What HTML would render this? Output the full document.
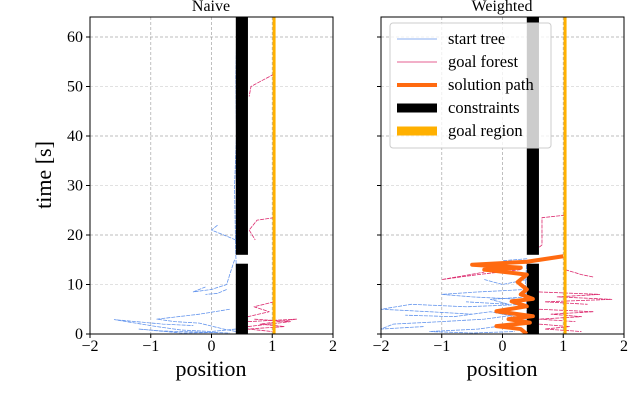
<!DOCTYPE html>
<html><head><meta charset="utf-8"><style>
body{margin:0;background:#fff;}
svg{display:block;font-family:"Liberation Serif",serif;}
</style></head><body>
<svg id="chart" width="628" height="408" viewBox="0 0 628 408"></svg>
<script>
// ---- data ----
const xTicks=[-2,-1,0,1,2];
const yTicks=[0,10,20,30,40,50,60];
const goalX=1.03;
const constraintX=[0.4,0.6];
const constraintGap=[14.2,16.0];
const naiveStart=[
[[0.42,0],[0.42,10],[0.40,16],[0.39,22],[0.38,30],[0.41,40],[0.40,52],[0.42,64]],
[[0.40,19],[0.2,20],[0.0,21],[0.1,22]],
[[0.38,15],[0.3,12],[0.25,10],[0.0,9],[-0.3,8.5],[-0.1,9.5]],
[[0.25,9],[0.1,8.2],[-0.1,8]],
[[0.4,1],[0.0,0.5],[-0.5,0.8],[-0.9,1.5],[-1.6,2.9],[-0.8,2],[-0.3,1.7]],
[[0.3,5],[-0.2,4],[-0.9,3],[-0.6,2.5],[-0.2,2.2],[0.2,1],[0.4,0.5]],
[[0.1,0.3],[-0.5,0.2],[-1.2,1],[-0.8,0.6],[0.3,0.2]]
];
const naiveGoal=[
[[1.03,52.5],[0.8,51],[0.65,50],[0.62,48]],
[[1.03,23.5],[0.75,23],[0.62,21],[0.72,19]],
[[1.03,6.5],[0.7,5.5],[0.95,4.5],[0.6,3.5]],
[[0.6,2.5],[1.4,3],[0.8,2],[1.2,1.5],[0.6,1],[1.0,0.5]],
[[0.6,1.5],[1.3,2.5],[0.7,3]]
];
const weightedStart=[
[[0.42,0],[0.4,5],[0.38,10],[0.4,15.2],[0.2,15],[0.0,14.8]],
[[0.4,9],[-0.4,8.5],[-1.0,8],[-0.5,7.5],[0.3,7]],
[[0.4,6],[-0.6,5.5],[-1.5,6],[-2.0,5],[-1.2,4.5],[-0.5,4]],
[[0.3,4],[-0.3,3],[-1.0,2.5],[-1.8,2],[-2,1],[-1.3,1.5]],
[[0.2,2],[-0.4,1],[-1.2,0.5],[-0.5,0.2],[0.2,0.5]],
[[0.4,3],[-0.2,4.5],[-0.8,3.5],[-1.6,3.8]],
[[0.4,7.5],[-0.2,7],[0.1,6],[-0.6,6.5]],
[[0.4,11],[0.0,10],[-0.3,11]]
];
const weightedGoal=[
[[1.03,24],[0.65,23.5],[0.65,18],[0.55,17]],
[[1.03,13],[1.3,12],[1.5,11.5]],
[[0.6,8.5],[1.6,8],[0.9,7.5],[1.8,7],[0.7,6.5],[1.4,6]],
[[0.6,5],[1.5,4.5],[0.8,4],[1.3,3.5],[0.6,3],[1.2,2.5]],
[[0.6,2],[1.1,1.5],[0.7,1],[1.3,0.5]],
[[0.3,13],[-0.4,12],[-1.0,11],[-0.3,12.5]]
];
const solutionPath=[[0.4,0],[0.3,1],[-0.1,1.6],[0.45,2.3],[0.1,3],[0.5,3.6],[-0.1,4.6],[0.4,5.6],[0.15,6.6],[0.5,7.1],[0.3,8],[0.4,9],[0.25,10.5],[0.4,12],[-0.3,13],[0.3,13.4],[-0.5,14],[0.4,14.6],[1.0,15.7]];

// ---- drawing ----
const NS="http://www.w3.org/2000/svg";
const svg=document.getElementById('chart');
function mk(tag,attrs,parent){const e=document.createElementNS(NS,tag);for(const k in attrs)e.setAttribute(k,attrs[k]);(parent||svg).appendChild(e);return e;}
const Y0=334,YS=(334-37)/60;
const sy=t=>Y0-t*YS;
function panel(left,title,start,goal,path,name){
  const sx=p=>left+(p+2)*(243/4);
  const g=mk('g',{});
  
  
  const top=17,right=left+243;
  for(const v of xTicks){if(v===-2||v===2)continue;const l=mk('line',{x1:sx(v),x2:sx(v),y1:top,y2:Y0,stroke:'#b0b0b0','stroke-width':0.8,'stroke-dasharray':'3,2'},g);}
  for(const v of yTicks){if(v===0)continue;const l=mk('line',{x1:left,x2:right,y1:sy(v),y2:sy(v),stroke:v%20==0?'#a8a8a8':'#d8d8d8','stroke-width':0.8,'stroke-dasharray':'3,2'},g);}
  const clip=mk('clipPath',{id:'c'+name},g);mk('rect',{x:left,y:top,width:243,height:Y0-top},clip);
  const inner=mk('g',{'clip-path':'url(#c'+name+')'},g);
  const line=(pts,col,w,nm)=>{const p=mk('polyline',{points:pts.map(q=>sx(q[0])+','+sy(q[1])).join(' '),fill:'none',stroke:col,'stroke-width':w,'stroke-linejoin':'round','stroke-dasharray':w<1?'4,1':'none'},inner);};
  start.forEach(b=>line(b,'#6495ed',0.8,'start-tree-branch'));
  goal.forEach(b=>line(b,'#dc2a6e',0.8,'goal-forest-branch'));
  const c1=mk('rect',{x:sx(constraintX[0]),y:sy(constraintGap[0]),width:sx(constraintX[1])-sx(constraintX[0]),height:Y0-sy(constraintGap[0]),fill:'#000'},inner);
  
  const c2=mk('rect',{x:sx(constraintX[0]),y:top,width:sx(constraintX[1])-sx(constraintX[0]),height:sy(constraintGap[1])-top,fill:'#000'},inner);
  
  const gr=mk('line',{x1:sx(goalX),x2:sx(goalX),y1:top,y2:Y0,stroke:'#ffb000','stroke-width':3},inner);
  
  if(path){const p=mk('polyline',{points:path.map(q=>sx(q[0])+','+sy(q[1])).join(' '),fill:'none',stroke:'#ff6a10','stroke-width':4,'stroke-linejoin':'round'},inner);}
  const fr=mk('rect',{x:left,y:top,width:243,height:Y0-top,fill:'none',stroke:'#000','stroke-width':1},g);
  
  for(const v of xTicks){mk('line',{x1:sx(v),x2:sx(v),y1:Y0,y2:Y0+4,stroke:'#000'},g);const t=mk('text',{x:sx(v),y:Y0+17,'font-size':16,'text-anchor':'middle'},g);t.textContent=v<0?'\u2212'+(-v):v;}
  for(const v of yTicks){mk('line',{x1:left-4,x2:left,y1:sy(v),y2:sy(v),stroke:'#000'},g);if(left<200){const t=mk('text',{x:left-7,y:sy(v)+5,'font-size':16,'text-anchor':'end'},g);t.textContent=v;}}
  const xl=mk('text',{x:left+121,y:376,'font-size':22,'text-anchor':'middle'},g);xl.textContent='position';
  const tt=mk('text',{x:left+121,y:11,'font-size':16,'text-anchor':'middle'},g);tt.textContent=title;
}
panel(90,'Naive',naiveStart,naiveGoal,null,'naive');
panel(381,'Weighted',weightedStart,weightedGoal,solutionPath,'weighted');
const yl=mk('text',{x:0,y:0,'font-size':22,'text-anchor':'middle',transform:'translate(51,175) rotate(-90)'});
yl.textContent='time [s]';
const lg=mk('g',{});

mk('rect',{x:390,y:23,width:161,height:125,rx:3,fill:'rgba(255,255,255,0.8)',stroke:'#ccc'},lg);
const entries=[['start tree','#6495ed',0.8],['goal forest','#dc2a6e',0.8],['solution path','#ff6a10',4],['constraints','#000',9],['goal region','#ffb000',9]];
entries.forEach((e,i)=>{const y=39+i*23;const g=mk('g',{},lg);
mk('line',{x1:397,x2:437,y1:y,y2:y,stroke:e[1],'stroke-width':e[2]},g);
const t=mk('text',{x:448,y:y+5,'font-size':16.5},g);t.textContent=e[0];});
</script>
</body></html>
